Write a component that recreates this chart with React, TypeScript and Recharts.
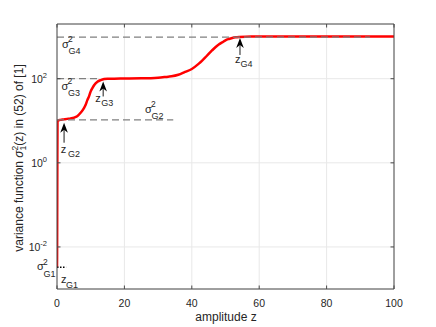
import React from "react";
import {
  CartesianGrid,
  Line,
  LineChart,
  ReferenceDot,
  ReferenceLine,
  XAxis,
  YAxis,
} from "recharts";

// red curve sigma_1^2(z)
const curveZ = [
  0, 0.03, 0.06, 0.1, 0.15, 0.3, 1, 2, 3, 4, 5, 6, 7, 8, 8.5, 9, 9.5, 10, 10.5,
  11, 12, 13, 14, 15, 17, 20, 25, 30, 33, 34, 36, 38, 40, 42, 43, 44, 45, 46,
  47, 48, 49, 50, 51, 52, 53, 54, 56, 60, 70, 80, 90, 100,
];
const curveV = [
  0.0033, 0.006, 0.05, 1, 9.5, 10.2, 10.5, 10.8, 11.1, 11.4, 11.8, 12.8, 15.5,
  20, 24, 31, 38, 50, 60, 70, 85, 93, 98, 100, 100.5, 101, 102, 106, 112, 114,
  124, 145, 170, 225, 265, 320, 390, 470, 560, 650, 730, 820, 880, 930, 965,
  985, 1000, 1005, 1008, 1010, 1010, 1010,
];

const xTicks = [0, 20, 40, 60, 80, 100];
const yTicks = [0.01, 1, 100];
const xDomain = [0, 100];
const yDomain = [0.001, 2000];

// sigma_Gi^2 levels (dashed lines)
const levelNames = ["G1", "G2", "G3", "G4"];
const levelValues = [0.0033, 10.5, 100, 970];
const levelEndZ = [2.7, 34.5, 12.8, 92.9];
const levelLabelZ = [0, 26.1, 0, 0];

// z_Gi arrows
const arrowNames = ["G2", "G3", "G4"];
const arrowZ = [2.1, 13.7, 54.3];
const arrowV = [9.0, 86, 931];

const data = curveZ.map((z, i) => ({z, v: curveV[i]}));

const FONT = '"Liberation Sans", Arial, Helvetica, sans-serif';
const AXIS = "#4a4a4a";
const TXT = "#262626";

// pixel offsets of the annotation texts
const SIGMA_OFFSET: Record<string, [number, number]> = {
  G1: [-20, 3],
  G2: [0, -7],
  G3: [4.5, 11],
  G4: [5, 10.5],
};
// z text and subscript offsets, relative to the arrow tip
const ARROW_LAYOUT: Record<string, {len: number; zx: number; zy: number; sx: number; sy: number}> = {
  G2: {len: 20, zx: -3.3, zy: 30, sx: 4, sy: 34},
  G3: {len: 15, zx: -8, zy: 21, sx: -2, sy: 25},
  G4: {len: 17, zx: -5, zy: 25, sx: 0.5, sy: 29},
};

function SigmaText({x, y, sub}: {x: number; y: number; sub: string}) {
  return (
    <g fontFamily={FONT} fill={TXT}>
      <text x={x} y={y} fontSize={11}>
        σ
      </text>
      <text x={x + 6} y={y - 5.5} fontSize={8.5}>
        2
      </text>
      <text x={x + 6.5} y={y + 6.5} fontSize={9}>
        {sub}
      </text>
    </g>
  );
}

// z with subscript; (sx, sy) are the subscript's offsets from the z
function ZText({x, y, sub, sx, sy}: {x: number; y: number; sub: string; sx: number; sy: number}) {
  return (
    <g fontFamily={FONT} fill={TXT}>
      <text x={x} y={y} fontSize={11}>
        z
      </text>
      <text x={x + sx} y={y + sy} fontSize={9}>
        {sub}
      </text>
    </g>
  );
}

function BottomTick({x, y, payload}: any) {
  return (
    <g>
      <line x1={x} x2={x} y1={y} y2={y - 3.5} stroke={AXIS} />
      <text x={x} y={y + 17.5} textAnchor="middle" fontSize={10.5} fontFamily={FONT} fill={TXT}>
        {payload.value}
      </text>
    </g>
  );
}

function LeftTick({x, y, payload}: any) {
  const exp = Math.round(Math.log10(payload.value));
  return (
    <g>
      <line x1={x} x2={x + 3.5} y1={y} y2={y} stroke={AXIS} />
      <text x={x - 10} y={y + 4} textAnchor="end" fontSize={10.5} fontFamily={FONT} fill={TXT}>
        10
        <tspan dy={-5} fontSize={7.5}>
          {exp}
        </tspan>
      </text>
    </g>
  );
}

// inward tick marks on the top and right edges of the box
const topTickShape = (p: any) => (
  <line x1={p.cx} x2={p.cx} y1={p.cy} y2={p.cy + 3.5} stroke={AXIS} />
);
const rightTickShape = (p: any) => (
  <line x1={p.cx} x2={p.cx - 3.5} y1={p.cy} y2={p.cy} stroke={AXIS} />
);

function arrowShape(name: string) {
  const l = ARROW_LAYOUT[name];
  return (p: any) => {
    const {cx, cy} = p;
    return (
      <g>
        <line x1={cx} x2={cx} y1={cy + 6} y2={cy + l.len} stroke="#000" strokeWidth={0.9} />
        <path
          d={`M${cx},${cy} L${cx + 3.8},${cy + 10} L${cx},${cy + 7} L${cx - 3.8},${cy + 10} Z`}
          fill="#000"
        />
        <ZText
          x={cx + l.zx}
          y={cy + l.zy}
          sub={name}
          sx={l.sx - l.zx}
          sy={l.sy - l.zy}
        />
      </g>
    );
  };
}

function sigmaShape(name: string) {
  const [dx, dy] = SIGMA_OFFSET[name];
  return (p: any) => <SigmaText x={p.cx + dx} y={p.cy + dy} sub={name} />;
}

function zG1Shape(p: any) {
  return <ZText x={p.cx + 4} y={p.cy + 16} sub="G1" sx={5} sy={5} />;
}

export default function App() {
  return (
    <div style={{position: "absolute", left: 0, top: 0, width: 436, height: 327, background: "#fff"}}>
      <LineChart
        width={436}
        height={327}
        data={data}
        margin={{top: 24, right: 42, bottom: 37, left: 56}}>
        <CartesianGrid stroke="#e8e8e8" strokeWidth={1} />
        <XAxis
          dataKey="z"
          type="number"
          domain={xDomain}
          ticks={xTicks}
          allowDataOverflow
          height={1}
          tickSize={0}
          tickMargin={0}
          tickLine={false}
          tick={BottomTick}
          stroke={AXIS}
        />
        <YAxis
          type="number"
          scale="log"
          domain={yDomain}
          ticks={yTicks}
          allowDataOverflow
          width={1}
          tickSize={0}
          tickMargin={0}
          tickLine={false}
          tick={LeftTick}
          stroke={AXIS}
        />
        <Line
          dataKey="v"
          type="monotone"
          stroke="#ff0000"
          strokeWidth={2.5}
          dot={false}
          isAnimationActive={false}
        />
        {levelNames.map((name, i) => (
          <ReferenceLine
            key={"lv" + name}
            segment={[
              {x: 0, y: levelValues[i]},
              {x: levelEndZ[i], y: levelValues[i]},
            ]}
            stroke={name === "G1" ? "#000" : "#808080"}
            strokeDasharray={name === "G1" ? "1.5 1.5" : "7 4"}
            strokeWidth={name === "G1" ? 1.6 : 1.3}
            ifOverflow="visible"
          />
        ))}
        {/* box: top and right edges */}
        <ReferenceLine y={yDomain[1]} stroke={AXIS} ifOverflow="visible" />
        <ReferenceLine x={xDomain[1]} stroke={AXIS} ifOverflow="visible" />
        {xTicks.map((t) => (
          <ReferenceDot
            key={"tt" + t}
            x={t}
            y={yDomain[1]}
            r={0}
            ifOverflow="visible"
            shape={topTickShape}
          />
        ))}
        {yTicks.map((t) => (
          <ReferenceDot
            key={"rt" + t}
            x={xDomain[1]}
            y={t}
            r={0}
            ifOverflow="visible"
            shape={rightTickShape}
          />
        ))}
        {levelNames.map((name, i) => (
          <ReferenceDot
            key={"sl" + name}
            x={levelLabelZ[i]}
            y={levelValues[i]}
            r={0}
            ifOverflow="visible"
            shape={sigmaShape(name)}
          />
        ))}
        {arrowNames.map((name, i) => (
          <ReferenceDot
            key={"ar" + name}
            x={arrowZ[i]}
            y={arrowV[i]}
            r={0}
            ifOverflow="visible"
            shape={arrowShape(name)}
          />
        ))}
        <ReferenceDot x={0} y={levelValues[0]} r={0} ifOverflow="visible" shape={zG1Shape} />
      </LineChart>
      <svg
        width={436}
        height={327}
        style={{position: "absolute", left: 0, top: 0, pointerEvents: "none"}}>
        <text x={226} y={321} textAnchor="middle" fontSize={12} fontFamily={FONT} fill={TXT}>
          amplitude z
        </text>
        <text
          transform="translate(23,158) rotate(-90)"
          textAnchor="middle"
          fontSize={12}
          fontFamily={FONT}
          fill={TXT}>
          variance function <tspan fontStyle="italic">σ</tspan>
          <tspan dy={-5} fontSize={8.5}>
            2
          </tspan>
          <tspan dx={-4.7} dy={8} fontSize={8.5}>
            1
          </tspan>
          <tspan dy={-3} fontSize={12}>
            (z) in (52) of [1]
          </tspan>
        </text>
      </svg>
    </div>
  );
}
